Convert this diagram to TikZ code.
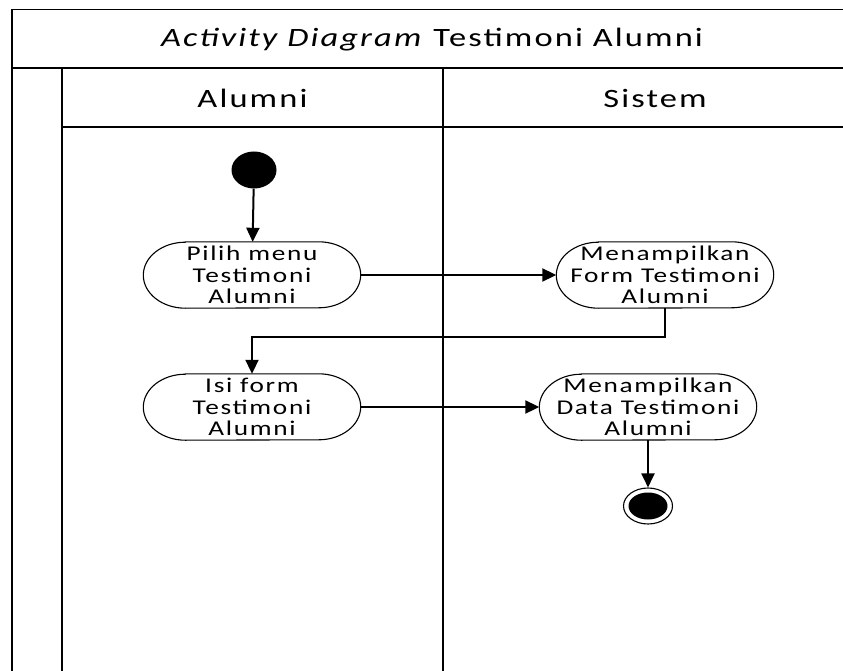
\documentclass[tikz,border=0pt]{standalone}
\usepackage{fontspec}
\setmainfont{Carlito}
\newfontfamily\diagfont[FakeStretch=1.3,LetterSpace=8]{Carlito}
\usetikzlibrary{arrows.meta,shapes.geometric}
\newcommand\actoutline[1]{%
  \draw[line width=1.1pt,fill=white]
    ([xshift=42pt]#1.north west) -- ([xshift=-42pt]#1.north east)
    arc[start angle=90,end angle=-90,x radius=42pt,y radius=33pt]
    -- ([xshift=42pt]#1.south west)
    arc[start angle=270,end angle=90,x radius=42pt,y radius=33pt] -- cycle;}
\begin{document}
\begin{tikzpicture}[x=1pt,y=-1pt,
  frameline/.style={line width=1.5pt},
  act/.style={minimum width=217pt,minimum height=66pt,
    align=center,inner sep=0pt,font=\diagfont\fontsize{21}{21.5}\selectfont},
  hdr/.style={font=\diagfont\fontsize{26.5}{30}\selectfont,inner sep=0pt},
  flow/.style={line width=2pt,-{Triangle[length=14pt,width=13pt]}},
  startnode/.style={ellipse,fill=black,minimum width=45pt,minimum height=37pt,inner sep=0pt},
  endnode/.style={ellipse,draw,line width=1.1pt,fill=white,minimum width=49pt,minimum height=36pt,inner sep=0pt},
]
\useasboundingbox (0,0) rectangle (843,671);
\begin{scope}
  \clip (0,0) rectangle (843,671);
  \draw[frameline] (12,700) -- (12,9.5) -- (870,9.5) -- (870,700);
  \draw[frameline] (12,68) -- (870,68);
  \draw[frameline] (62,68) -- (62,700);
  \draw[frameline] (443,68) -- (443,700);
  \draw[frameline] (62,127) -- (870,127);
\end{scope}
\node[hdr] (title) at (432,40) {\textit{Activity Diagram} Testimoni Alumni};
\node[hdr] (lane1) at (252.5,98) {Alumni};
\node[hdr] (lane2) at (655,98) {Sistem};

\node[startnode] (s) at (254,170) {};
\node[act] (a1) at (252,275) {};
\node[act] (a2) at (665,275) {};
\node[act] (a3) at (252,407) {};
\node[act] (a4) at (648,407) {};
\actoutline{a1}\actoutline{a2}\actoutline{a3}\actoutline{a4}
\node[act] at (a1) {Pilih menu\\Testimoni\\Alumni};
\node[act] at (a2) {Menampilkan\\Form Testimoni\\Alumni};
\node[act] at (a3) {Isi form\\Testimoni\\Alumni};
\node[act] at (a4) {Menampilkan\\Data Testimoni\\Alumni};
\node[endnode] (e) at (648,506) {};
\node[ellipse,fill=black,minimum width=39pt,minimum height=27pt,inner sep=0pt] (einner) at (e.center) {};
\coordinate (mid) at (0,337);

\draw[flow] (s) -- (a1);
\draw[flow] (a1) -- (a2);
\draw[flow] (a2.south) -- (a2.south |- mid) -| (a3.north);
\draw[flow] (a3) -- (a4);
\draw[flow] (a4) -- (e);
\end{tikzpicture}
\end{document}
